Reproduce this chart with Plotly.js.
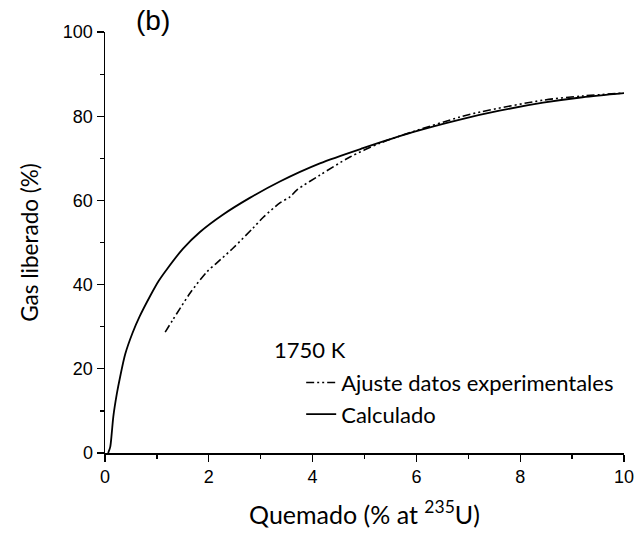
<!DOCTYPE html>
<html>
<head>
<meta charset="utf-8">
<script src="https://cdn.plot.ly/plotly-3.0.1.min.js"></script>
<style>html,body{margin:0;padding:0;background:#fff;}#plot{width:640px;height:542px;}</style>
</head>
<body>
<div id="plot"></div>
<script>
var legendTitle = "1750 K";
var panelLabel = "(b)";
var expName = "Ajuste datos experimentales";
var calcName = "Calculado";

var expX = [1.16,1.3,1.45,1.64,1.96,2.15,2.47,2.85,3.05,3.37,3.56,3.7,4.14,4.72,5.3,5.9,6.84,7.23,8.44,9.2,10.0];
var expY = [28.7,31.5,34.4,38,43,45.1,48.7,53.4,56,59.4,60.8,62.5,66,70.3,73.6,76.2,79.8,81,83.8,84.8,85.5];

var calcX = [0.06,0.10,0.13,0.16,0.23,0.29,0.39,0.53,0.67,0.87,1.03,1.19,1.5,1.83,2.27,2.79,3.37,4.14,4.97,5.93,6.84,7.6,8.44,9.2,10.0];
var calcY = [0,1.4,4.7,8.6,14.2,18,23.5,28.5,32.5,37.3,40.8,43.6,48.5,52.5,56.6,60.6,64.5,68.8,72.4,76.2,79.2,81.3,83.2,84.5,85.5];

var xTicks = [0,2,4,6,8,10];
var yTicks = [0,20,40,60,80,100];

var textFont = "Lato, 'Open Sans', sans-serif";
var tickFont = "'Liberation Sans', Arial, sans-serif";

var traces = [
  {x: expX, y: expY, name: expName, mode: 'lines', type: 'scatter',
   line: {color: '#000', width: 1.6, dash: '8px,3px,2px,3px,2px,3px', shape: 'spline', smoothing: 0.8}},
  {x: calcX, y: calcY, name: calcName, mode: 'lines', type: 'scatter',
   line: {color: '#000', width: 1.8, shape: 'spline', smoothing: 0.8}}
];

var layout = {
  width: 640, height: 542,
  margin: {l: 105, r: 16, t: 32, b: 89},
  paper_bgcolor: '#fff', plot_bgcolor: '#fff',
  font: {family: textFont, color: '#000', size: 18},
  showlegend: true,
  legend: {x: 0.378, y: 0.217, xanchor: 'left', yanchor: 'top', bgcolor: 'rgba(0,0,0,0)',
    font: {size: 22, family: textFont}, tracegroupgap: 0},
  xaxis: {range: [0, 10], tickvals: xTicks, ticks: 'outside', ticklen: 7, tickwidth: 1.3,
    tickcolor: '#000', showline: true, linecolor: '#000', linewidth: 1.5, showgrid: false,
    zeroline: false, tickfont: {size: 18, family: tickFont},
    minor: {dtick: 1, ticks: 'outside', ticklen: 4, tickcolor: '#000', tickwidth: 1.2, showgrid: false},
    title: {text: 'Quemado (% at <sup>235</sup>U)', font: {size: 25, family: textFont}, standoff: 20}},
  yaxis: {range: [0, 100], tickvals: yTicks, ticks: 'outside', ticklen: 7, tickwidth: 1.3,
    tickcolor: '#000', showline: true, linecolor: '#000', linewidth: 1.5, showgrid: false,
    zeroline: false, tickfont: {size: 18, family: tickFont},
    minor: {dtick: 10, ticks: 'outside', ticklen: 4, tickcolor: '#000', tickwidth: 1.2, showgrid: false},
    title: {text: 'Gas liberado (%)', font: {size: 22.5, family: textFont}, standoff: 18}},
  annotations: [
    {text: panelLabel, xref: 'paper', yref: 'paper', x: 0.055, y: 1.0, xanchor: 'left', yanchor: 'bottom',
     yshift: -6, showarrow: false, font: {size: 28, family: tickFont}},
    {text: legendTitle, xref: 'paper', yref: 'paper', x: 0.322, y: 0.245, xanchor: 'left', yanchor: 'middle',
     showarrow: false, font: {size: 22, family: textFont}}
  ]
};

Plotly.newPlot('plot', traces, layout, {displayModeBar: false, staticPlot: true});
</script>
</body>
</html>
